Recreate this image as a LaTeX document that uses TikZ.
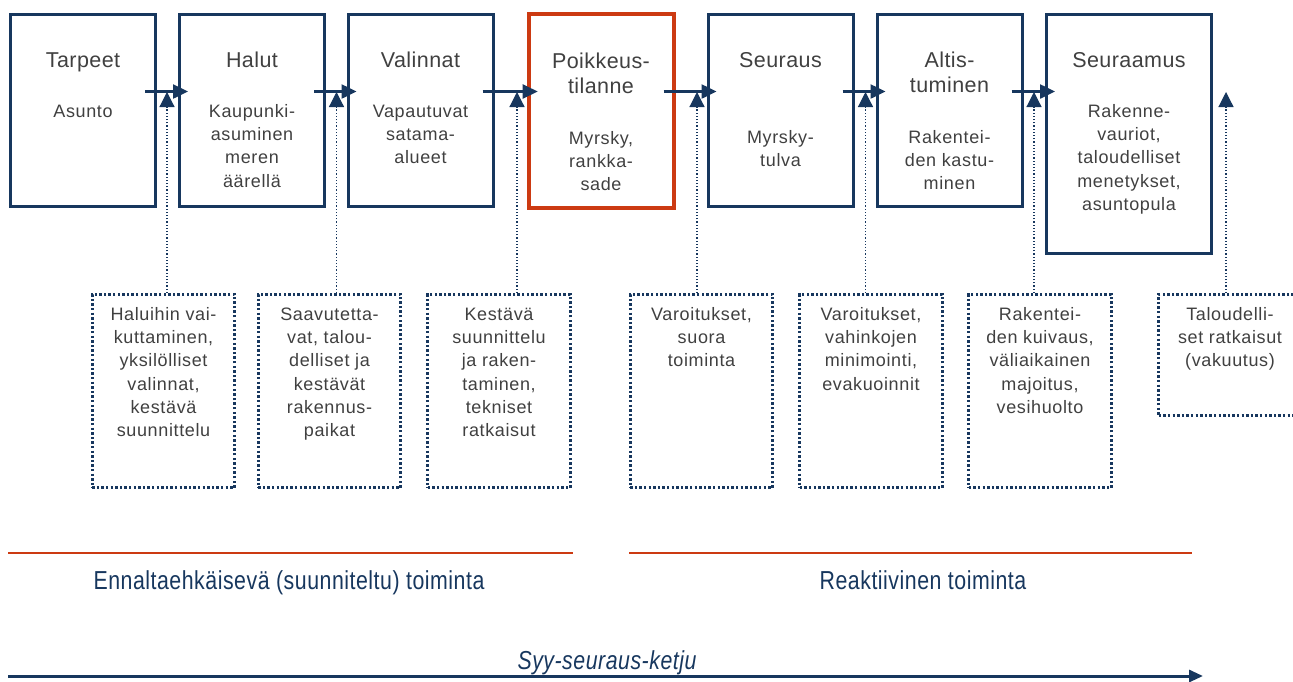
\documentclass[tikz,border=0pt]{standalone}
\usepackage{fontspec}
\setmainfont{Liberation Sans}
\newfontfamily\bodyfnt{Liberation Sans}[LetterSpace=3.5]
\newfontfamily\headfnt{Liberation Sans}[LetterSpace=2]
\newfontfamily\narrowfnt{Liberation Sans}[FakeStretch=0.82,LetterSpace=2]
\usetikzlibrary{arrows.meta}
\definecolor{navy}{RGB}{23,55,94}
\definecolor{rust}{RGB}{204,58,18}
\definecolor{txtgray}{RGB}{64,64,64}
\newcommand\headstrut{\rule{0pt}{17pt}}
\newcommand\bodystrut{\rule{0pt}{16pt}}
\begin{document}
\begin{tikzpicture}[x=1pt,y=-1pt,
  chainbox/.style={draw=navy, line width=3pt, minimum width=145pt, minimum height=192.5pt, inner sep=0pt},
  hotbox/.style={draw=rust, line width=4pt, minimum width=145pt, minimum height=194pt, inner sep=0pt},
  notebox/.style={draw=navy, line width=2.6pt, dash pattern=on 2.4pt off 2.2pt, minimum width=142.5pt, minimum height=193.5pt, inner sep=0pt},
  chaintitle/.style={font=\headfnt\fontsize{21.5}{25}\selectfont, text=txtgray, align=center, anchor=north, inner sep=0pt},
  chainbody/.style={font=\bodyfnt\fontsize{18}{23.3}\selectfont, text=txtgray, align=center, anchor=north, inner sep=0pt},
  flowarrow/.style={draw=navy, line width=2.5pt, -{Triangle[length=15pt,width=14pt]}},
  feedarrow/.style={draw=navy, line width=1.2pt, dash pattern=on 1.2pt off 2pt, -{Triangle[length=15pt,width=15pt]}},
  bandline/.style={draw=rust, line width=2pt},
  bandtext/.style={font=\narrowfnt\fontsize{26}{30}\selectfont, text=navy, anchor=base, inner sep=0pt}
]
\useasboundingbox (0,0) rectangle (1293,681);

% main chain boxes
\node[chainbox] (b1) at (83,110.25) {};
\node[chainbox] (b2) at (252,110.25) {};
\node[chainbox] (b3) at (420.5,110.25) {};
\node[hotbox]   (b4) at (601.2,111) {};
\node[chainbox] (b5) at (780.5,110.25) {};
\node[chainbox] (b6) at (949.5,110.25) {};
\node[chainbox, minimum width=165pt, minimum height=239.5pt] (b7) at (1129,133.75) {};

% titles
\node[chaintitle] (t1) at (83,50) {\headstrut Tarpeet};
\node[chaintitle] (t2) at (252,50) {\headstrut Halut};
\node[chaintitle] (t3) at (420.5,50) {\headstrut Valinnat};
\node[chaintitle] (t4) at (601,51) {\headstrut Poikkeus-\\tilanne};
\node[chaintitle] (t5) at (780.5,50) {\headstrut Seuraus};
\node[chaintitle] (t6) at (949.5,50) {\headstrut Altis-\\tuminen};
\node[chaintitle] (t7) at (1129,50) {\headstrut Seuraamus};

% bodies
\node[chainbody] (c1) at (83,101) {\bodystrut Asunto};
\node[chainbody] (c2) at (252,101) {\bodystrut Kaupunki-\\asuminen\\meren\\äärellä};
\node[chainbody] (c3) at (420.5,101) {\bodystrut Vapautuvat\\satama-\\alueet};
\node[chainbody] (c4) at (601,128) {\bodystrut Myrsky,\\rankka-\\sade};
\node[chainbody] (c5) at (780.5,127) {\bodystrut Myrsky-\\tulva};
\node[chainbody] (c6) at (949.5,127) {\bodystrut Rakentei-\\den kastu-\\minen};
\node[chainbody] (c7) at (1129,101) {\bodystrut Rakenne-\\vauriot,\\taloudelliset\\menetykset,\\asuntopula};

% dotted measure boxes
\node[notebox] (d1) at (163.5,391) {};
\node[notebox] (d2) at (329.5,391) {};
\node[notebox] (d3) at (499,391) {};
\node[notebox] (d4) at (701.5,391) {};
\node[notebox] (d5) at (871,391) {};
\node[notebox] (d6) at (1040,391) {};
\node[notebox, minimum height=121.5pt] (d7) at (1230,355) {};

\node[chainbody] (e1) at (163.5,304) {\bodystrut Haluihin vai-\\kuttaminen,\\yksilölliset\\valinnat,\\kestävä\\suunnittelu};
\node[chainbody] (e2) at (329.5,304) {\bodystrut Saavutetta-\\vat, talou-\\delliset ja\\kestävät\\rakennus-\\paikat};
\node[chainbody] (e3) at (499,304) {\bodystrut Kestävä\\suunnittelu\\ja raken-\\taminen,\\tekniset\\ratkaisut};
\node[chainbody] (e4) at (701.5,304) {\bodystrut Varoitukset,\\suora\\toiminta};
\node[chainbody] (e5) at (871,304) {\bodystrut Varoitukset,\\vahinkojen\\minimointi,\\evakuoinnit};
\node[chainbody] (e6) at (1040,304) {\bodystrut Rakentei-\\den kuivaus,\\väliaikainen\\majoitus,\\vesihuolto};
\node[chainbody] (e7) at (1230,304) {\bodystrut Taloudelli-\\set ratkaisut\\(vakuutus)};

% horizontal chain arrows
\coordinate (hrow) at (0,91.5);
\draw[flowarrow] ([xshift=-12pt]b1.east |- hrow) -- ([xshift=10pt]b2.west |- hrow);
\draw[flowarrow] ([xshift=-12pt]b2.east |- hrow) -- ([xshift=10pt]b3.west |- hrow);
\draw[flowarrow] ([xshift=-12pt]b3.east |- hrow) -- ([xshift=11pt]b4.west |- hrow);
\draw[flowarrow] ([xshift=-12pt]b4.east |- hrow) -- ([xshift=10pt]b5.west |- hrow);
\draw[flowarrow] ([xshift=-12pt]b5.east |- hrow) -- ([xshift=10pt]b6.west |- hrow);
\draw[flowarrow] ([xshift=-12pt]b6.east |- hrow) -- ([xshift=10pt]b7.west |- hrow);

% vertical dotted arrows
\coordinate (p1) at (167,92);
\coordinate (p2) at (336.5,92);
\coordinate (p3) at (517,92);
\coordinate (p4) at (697,92);
\coordinate (p5) at (865.5,92);
\coordinate (p6) at (1034,92);
\coordinate (p7) at (1226,92);
\draw[feedarrow] (d1.north -| p1) -- (p1);
\draw[feedarrow] (d2.north -| p2) -- (p2);
\draw[feedarrow] (d3.north -| p3) -- (p3);
\draw[feedarrow] (d4.north -| p4) -- (p4);
\draw[feedarrow] (d5.north -| p5) -- (p5);
\draw[feedarrow] (d6.north -| p6) -- (p6);
\draw[feedarrow] (d7.north -| p7) -- (p7);

% bands
\coordinate (r1a) at (8,553);
\coordinate (r1b) at (573,553);
\coordinate (r2a) at (629,553);
\coordinate (r2b) at (1192,553);
\draw[bandline] (r1a) -- (r1b);
\draw[bandline] (r2a) -- (r2b);
\node[bandtext] (l1) at (289,589) {Ennaltaehkäisevä (suunniteltu) toiminta};
\node[bandtext] (l2) at (923,589) {Reaktiivinen toiminta};

% cause-effect chain arrow
\coordinate (k1) at (8,676);
\coordinate (k2) at (1203,676);
\draw[draw=navy, line width=3pt, -{Triangle[length=14pt,width=12pt]}] (k1) -- (k2);
\node[bandtext, font=\narrowfnt\itshape\fontsize{26}{30}\selectfont] (l3) at (607,669) {Syy-seuraus-ketju};
\end{tikzpicture}
\end{document}
